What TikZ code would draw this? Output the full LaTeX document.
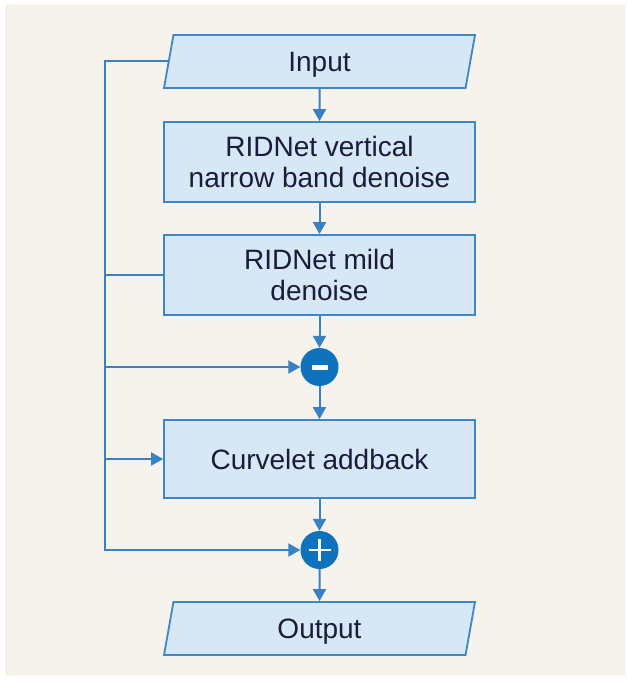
\documentclass[tikz,border=0pt]{standalone}
\usepackage{fontspec}
\setmainfont{Liberation Sans}
\usetikzlibrary{shapes.geometric,arrows.meta}
\definecolor{bgc}{HTML}{F5F3EC}
\definecolor{boxfill}{HTML}{D6E8F6}
\definecolor{boxline}{HTML}{3F86C8}
\definecolor{linec}{HTML}{3A80C4}
\definecolor{circfill}{HTML}{0E72BC}
\definecolor{txt}{HTML}{1B1B3A}
\tikzset{
  procbox/.style={draw=boxline, line width=1.8pt, fill=boxfill, minimum width=311pt, inner sep=0pt,
    align=center, text=txt, font=\fontsize{28}{31}\selectfont},
  iobox/.style={trapezium, trapezium left angle=64.7, trapezium right angle=115.3, trapezium stretches body,
    draw=boxline, line width=1.8pt, fill=boxfill, minimum width=311pt, minimum height=53pt, inner sep=0pt,
    text height=20pt, text depth=0pt,
    text=txt, font=\fontsize{28}{31}\selectfont},
  opcirc/.style={circle, fill=circfill, minimum size=38pt, inner sep=0pt},
  conn/.style={draw=linec, line width=2pt},
  arr/.style={conn, -{Triangle[length=12pt,width=13pt]}},
}
\begin{document}
\begin{tikzpicture}[x=1pt,y=-1pt]
\useasboundingbox (0,0) rectangle (628,682);
\fill[bgc] (5,4) rectangle (625,676);
\node[iobox] (in) at (319.5,61.5) {Input};
\node[procbox, minimum height=80pt] (b1) at (319.5,162) {RIDNet vertical\\narrow band denoise};
\node[procbox, minimum height=80pt] (b2) at (319.5,275) {RIDNet mild\\denoise};
\node[opcirc, path picture={\draw[white, line width=5pt] ([xshift=-8pt]path picture bounding box.center) -- ([xshift=8pt]path picture bounding box.center);}] (minus) at (319.5,367) {};
\node[procbox, minimum height=78pt] (cv) at (319.5,459) {Curvelet addback};
\node[opcirc, path picture={\draw[white, line width=2.2pt] ([xshift=-11pt]path picture bounding box.center) -- ([xshift=11pt]path picture bounding box.center);
  \draw[white, line width=2.2pt] ([yshift=-11pt]path picture bounding box.center) -- ([yshift=11pt]path picture bounding box.center);}] (plus) at (319.5,550) {};
\node[iobox] (out) at (319.5,628.5) {Output};
\coordinate (trunk) at (105,0);
% vertical chain
\draw[arr] (in.south) -- (b1.north);
\draw[arr] (b1.south) -- (b2.north);
\draw[arr] (b2.south) -- (minus.north);
\draw[arr] (minus.south) -- (cv.north);
\draw[arr] (cv.south) -- (plus.north);
\draw[arr] (plus.south) -- (out.north);
% skip connections
\draw[arr] (in.west) -| (trunk |- plus.west) -- (plus.west);
\draw[conn] (b2.west) -- (trunk |- b2.west);
\draw[arr] (trunk |- minus.west) -- (minus.west);
\draw[arr] (trunk |- cv.west) -- (cv.west);
\end{tikzpicture}
\end{document}
